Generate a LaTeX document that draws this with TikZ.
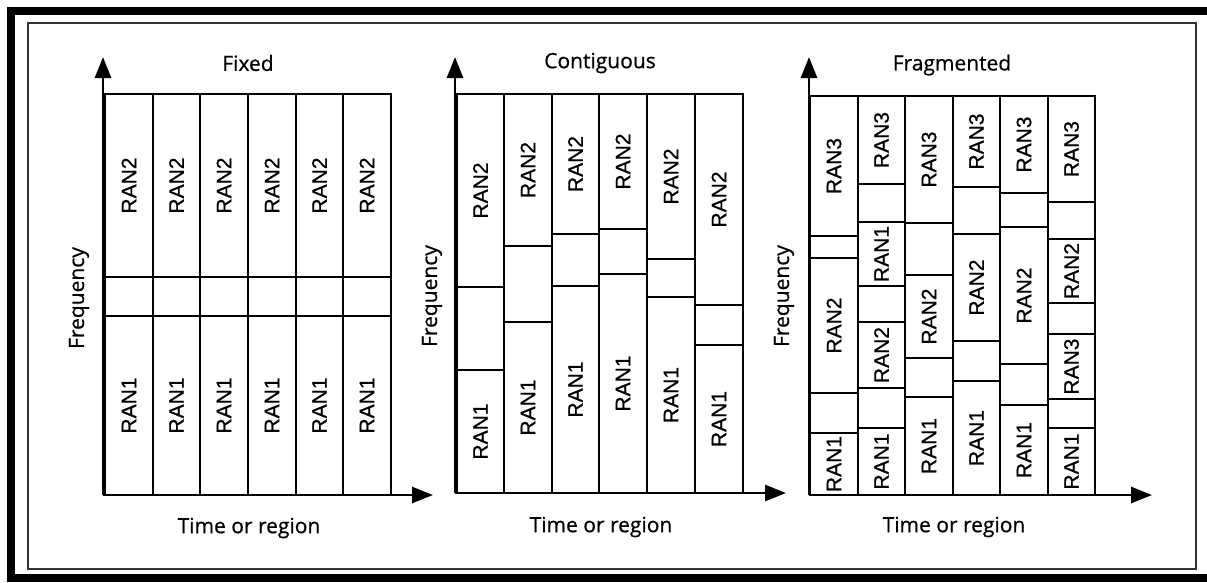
\documentclass[tikz,border=0pt]{standalone}
\usepackage{fontspec}
\setmainfont[FakeBold=0.6]{Open Sans}
\newfontfamily\ranfont[FakeBold=0.7]{Liberation Sans}
\usetikzlibrary{arrows.meta}
\newcommand{\ranblk}[6]{%
  \node[blk, minimum width={(#3-#2)*1pt}, minimum height={(#5-#4)*1pt}] (#1) at ({(#2+#3)/2},{(#4+#5)/2}) {\rotatebox{90}{#6}};}
\tikzset{
  blk/.style={draw, rectangle, line width=1.7pt, inner sep=0pt, outer sep=0pt,
    font=\ranfont\fontsize{21}{21}\selectfont},
  axis/.style={line width=2.6pt, -{Triangle[length=21pt,width=16pt]}},
  ttl/.style={font=\fontsize{21}{25}\selectfont, inner sep=0pt},
}
\begin{document}
\begin{tikzpicture}[x=1pt,y=-1pt]
\useasboundingbox (0,0) rectangle (1207,582);
% frames
\fill (7,7) rectangle (1207,15);
\fill (7,7) rectangle (15,582);
\fill (7,574) rectangle (1207,582);
\draw[line width=1.3pt, black!80] (28,23) rectangle (1196,569);

% ---------- Fixed ----------
\foreach \a/\b [count=\i] in {105/153,153/200,200/248,248/296,296/343,343/391}{
  \ranblk{fxa\i}{\a}{\b}{94}{277}{RAN2}
  \ranblk{fxb\i}{\a}{\b}{277}{316}{}
  \ranblk{fxc\i}{\a}{\b}{316}{495}{RAN1}
}
\coordinate (o1) at (103,495);
\coordinate (ya1) at (103,57);
\coordinate (xa1) at (433,495);
\draw[axis] (o1) -- (ya1);
\draw[axis] (o1) -- (xa1);
\node[ttl] (t1) at (248,63) {Fixed};
\node[ttl, rotate=90] (fq1) at (79,298) {Frequency};
\node[ttl] (tr1) at (249,528) {Time or region};

% ---------- Contiguous ----------
\foreach \a/\b/\p/\q [count=\i] in {457/504/287/370,504/552/246/322,552/599/234/286,599/647/229/274,647/695/259/297,695/743/305/345}{
  \ranblk{cga\i}{\a}{\b}{94}{\p}{RAN2}
  \ranblk{cgb\i}{\a}{\b}{\p}{\q}{}
  \ranblk{cgc\i}{\a}{\b}{\q}{493}{RAN1}
}
\coordinate (o2) at (455,493);
\coordinate (ya2) at (455,57);
\coordinate (xa2) at (786,493);
\draw[axis] (o2) -- (ya2);
\draw[axis] (o2) -- (xa2);
\node[ttl] (t2) at (600,63) {Contiguous};
\node[ttl, rotate=90] (fq2) at (432,296) {Frequency};
\node[ttl] (tr2) at (601,527) {Time or region};

% ---------- Fragmented ----------
% column 1
\ranblk{f1a}{810}{858}{96}{236}{RAN3}
\ranblk{f1b}{810}{858}{236}{258}{}
\ranblk{f1c}{810}{858}{258}{393}{RAN2}
\ranblk{f1d}{810}{858}{393}{433}{}
\ranblk{f1e}{810}{858}{433}{495}{RAN1}
% column 2
\ranblk{f2a}{858}{905}{96}{184}{RAN3}
\ranblk{f2b}{858}{905}{184}{222}{}
\ranblk{f2c}{858}{905}{222}{286}{RAN1}
\ranblk{f2d}{858}{905}{286}{322}{}
\ranblk{f2e}{858}{905}{322}{388}{RAN2}
\ranblk{f2f}{858}{905}{388}{428}{}
\ranblk{f2g}{858}{905}{428}{495}{RAN1}
% column 3
\ranblk{f3a}{905}{953}{96}{223}{RAN3}
\ranblk{f3b}{905}{953}{223}{275}{}
\ranblk{f3c}{905}{953}{275}{358}{RAN2}
\ranblk{f3d}{905}{953}{358}{397}{}
\ranblk{f3e}{905}{953}{397}{495}{RAN1}
% column 4
\ranblk{f4a}{953}{1000}{96}{187}{RAN3}
\ranblk{f4b}{953}{1000}{187}{234}{}
\ranblk{f4c}{953}{1000}{234}{341}{RAN2}
\ranblk{f4d}{953}{1000}{341}{381}{}
\ranblk{f4e}{953}{1000}{381}{495}{RAN1}
% column 5
\ranblk{f5a}{1000}{1048}{96}{193}{RAN3}
\ranblk{f5b}{1000}{1048}{193}{227}{}
\ranblk{f5c}{1000}{1048}{227}{364}{RAN2}
\ranblk{f5d}{1000}{1048}{364}{405}{}
\ranblk{f5e}{1000}{1048}{405}{495}{RAN1}
% column 6
\ranblk{f6a}{1048}{1095}{96}{202}{RAN3}
\ranblk{f6b}{1048}{1095}{202}{239}{}
\ranblk{f6c}{1048}{1095}{239}{303}{RAN2}
\ranblk{f6d}{1048}{1095}{303}{334}{}
\ranblk{f6e}{1048}{1095}{334}{399}{RAN3}
\ranblk{f6f}{1048}{1095}{399}{428}{}
\ranblk{f6g}{1048}{1095}{428}{495}{RAN1}
\coordinate (o3) at (809,495);
\coordinate (ya3) at (809,57);
\coordinate (xa3) at (1152,495);
\draw[axis] (o3) -- (ya3);
\draw[axis] (o3) -- (xa3);
\node[ttl] (t3) at (952,65) {Fragmented};
\node[ttl, rotate=90] (fq3) at (784,296) {Frequency};
\node[ttl] (tr3) at (954,527) {Time or region};
\end{tikzpicture}
\end{document}
